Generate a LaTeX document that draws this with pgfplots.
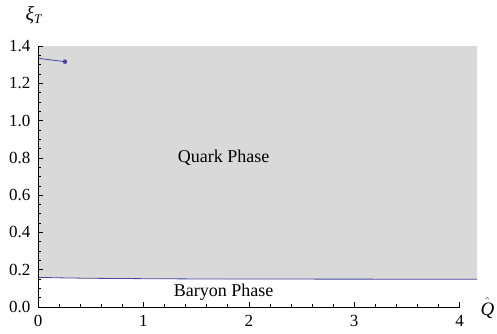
\documentclass[border=0pt]{standalone}
\usepackage{fontspec}
\setmainfont{Liberation Serif}
\usepackage{pgfplots}
\pgfplotsset{compat=1.18}
\definecolor{phasegray}{RGB}{217,217,217}
\definecolor{curveblue}{RGB}{70,70,160}

\begin{document}
\begin{tikzpicture}
\begin{axis}[
  scale only axis, width=439pt, height=261pt,
  xmin=0, xmax=4.165, ymin=0, ymax=1.4,
  axis x line*=bottom, axis y line*=left,
  axis line style={draw=none},
  axis on top,
  tick align=inside,
  major tick length=5pt, minor tick length=3pt,
  every tick/.style={draw=black, line width=0.6pt},
  xtick={0,1,2,3,4},
  minor xtick={0.2,0.4,0.6,0.8,1.2,1.4,1.6,1.8,2.2,2.4,2.6,2.8,3.2,3.4,3.6,3.8},
  ytick={0,0.2,0.4,0.6,0.8,1.0,1.2,1.4},
  minor ytick={0.05,0.1,0.15,0.25,0.3,0.35,0.45,0.5,0.55,0.65,0.7,0.75,0.85,0.9,0.95,1.05,1.1,1.15,1.25,1.3,1.35},
  /pgf/number format/assume math mode=true,
  yticklabel style={/pgf/number format/fixed, /pgf/number format/fixed zerofill, /pgf/number format/precision=1,
    font=\fontsize{17}{19}\selectfont, xshift=-4pt},
  xticklabel style={font=\fontsize{17}{19}\selectfont, yshift=-5pt},
  every axis y label/.style={at={(axis description cs:0,1)}, anchor=base west, xshift=-16pt, yshift=26pt},
  every axis x label/.style={at={(axis description cs:1,0)}, anchor=base west, xshift=0pt, yshift=-8pt},
  ylabel={\fontsize{20}{22}\selectfont\textit{ξ}\raisebox{-0.35ex}{\fontsize{13}{15}\selectfont\textit{T}}},
  xlabel={\fontsize{19}{21}\selectfont$\hat{\mbox{\itshape Q}}$},
  clip=false,
]
% quark region above the phase boundary
\addplot[fill=phasegray, draw=none] coordinates {
  (0,0.159) (0.25,0.156) (0.5,0.154) (1,0.152) (1.5,0.1505) (2,0.150)
  (3,0.1495) (4.165,0.149) (4.165,1.4) (0,1.4)
} -- cycle;
% phase boundary
\addplot[curveblue, line width=0.8pt] coordinates {
  (0,0.159) (0.25,0.156) (0.5,0.154) (1,0.152) (1.5,0.1505) (2,0.150)
  (3,0.1495) (4.165,0.149)
};
% short branch ending in a point
\addplot[curveblue, line width=0.8pt] coordinates {(0,1.334) (0.256,1.316)};
\addplot[only marks, mark=*, mark size=2pt, curveblue] coordinates {(0.256,1.316)};
% axis lines
\draw[black, line width=0.6pt] (axis cs:0,0) -- (axis cs:4,0);
\draw[black, line width=0.6pt] (axis cs:0,0) -- (axis cs:0,1.4);
\node[font=\fontsize{18}{21}\selectfont] at (axis cs:1.76,0.80) {Quark Phase};
\node[font=\fontsize{18}{21}\selectfont] at (axis cs:1.76,0.082) {Baryon Phase};
\coordinate (O) at (axis cs:0,0);
\end{axis}
\pgfresetboundingbox
\path (O) ++(-38pt,-26pt) rectangle ++(497pt,333pt);
\end{tikzpicture}
\end{document}
